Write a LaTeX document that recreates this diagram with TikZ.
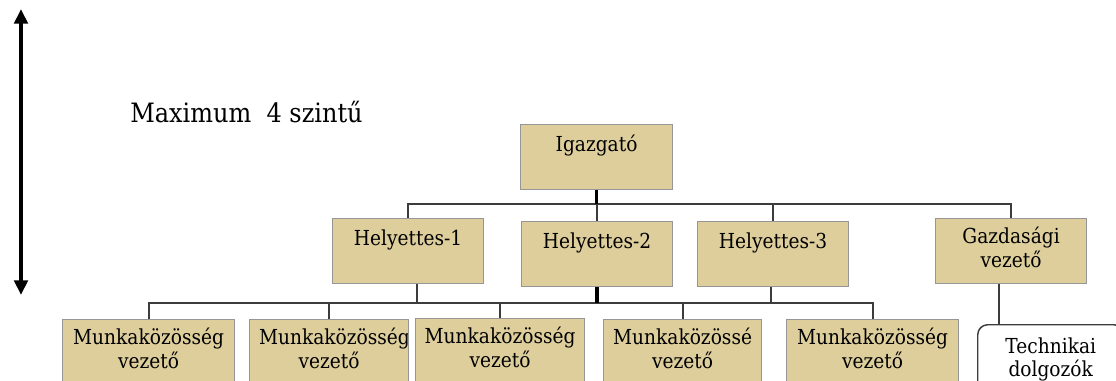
\documentclass[tikz,border=0pt]{standalone}
\usepackage{fontspec}
\setmainfont{DejaVu Serif}
\newfontfamily\labelfont{DejaVu Serif}[FakeStretch=0.9]
\usetikzlibrary{arrows.meta}
\definecolor{boxfill}{RGB}{221,206,156}
\definecolor{boxedge}{RGB}{150,150,150}
\definecolor{wire}{RGB}{60,60,60}
\begin{document}
\begin{tikzpicture}[x=0.75pt,y=-0.75pt,
  lbl/.style={anchor=base, inner sep=0pt, font=\labelfont\fontsize{15.5}{17}\selectfont},
  orgbox/.style={draw=boxedge, fill=boxfill, line width=0.9pt, inner sep=0pt,
    anchor=north west, minimum height=65*0.75pt},
  bw/.style={minimum width=#1*0.75pt},
  one/.style={path picture={\node[lbl] at ([yshift=-20.5pt]path picture bounding box.north) {#1};}},
  two/.style 2 args={path picture={
      \node[lbl] at ([yshift=-19pt]path picture bounding box.north) {#1};
      \node[lbl] at ([yshift=-36.5pt]path picture bounding box.north) {#2};}},
  conn/.style={draw=wire, line width=1.5pt},
  trunk/.style={draw=black, line width=2.6pt},
]
\clip (0,0) rectangle (1116,380);

% level arrow and caption
\coordinate (atop) at (21,9);
\coordinate (abot) at (21,295);
\draw[line width=3pt, {Triangle[length=11pt,width=10pt]}-{Triangle[length=11pt,width=10pt]}] (atop) -- (abot);
\node[anchor=base west, inner sep=0pt, font=\labelfont\fontsize{20}{22}\selectfont] (cap) at (130,122) {Maximum\ \ 4 szintű};

% boxes
\node[orgbox, bw=152, one={Igazgató}] (ig) at (520,124) {};
\node[orgbox, bw=151, one={Helyettes-1}] (h1) at (332,218) {};
\node[orgbox, bw=151, one={Helyettes-2}] (h2) at (521,221) {};
\node[orgbox, bw=151, one={Helyettes-3}] (h3) at (697,221) {};
\node[orgbox, bw=151, two={Gazdasági}{vezető}] (gz) at (935,218) {};

\node[orgbox, bw=172, minimum height=70*0.75pt, two={Munkaközösség}{vezető}] (m1) at (62,319) {};
\node[orgbox, bw=159, minimum height=70*0.75pt,
      path picture={
        \node[lbl] at ([xshift=4pt,yshift=-19pt]path picture bounding box.north) {Munkaközösség};
        \node[lbl] at ([yshift=-36.5pt]path picture bounding box.north) {vezető};}] (m2) at (249,319) {};
\node[orgbox, bw=169, minimum height=70*0.75pt, two={Munkaközösség}{vezető}] (m3) at (415,318) {};
\node[orgbox, bw=158, minimum height=70*0.75pt, two={Munkaközössé}{vezető}] (m4) at (603,319) {};
\node[orgbox, bw=172, minimum height=70*0.75pt, two={Munkaközösség}{vezető}] (m5) at (786,319) {};

\node[draw=wire, fill=white, line width=1.1pt, rounded corners=7.5pt, inner sep=0pt,
      anchor=north west, minimum width=146*0.75pt, minimum height=70*0.75pt,
      path picture={
        \node[lbl] at ([yshift=-21.5pt]path picture bounding box.north) {Technikai};
        \node[lbl] at ([yshift=-39pt]path picture bounding box.north) {dolgozók};}]
      (tech) at (977,324) {};

% bus lines
\coordinate (busA) at (0,204);
\coordinate (busB) at (0,303);

\draw[conn] (h1.north) -- (h1.north |- busA) -- (gz.north |- busA) -- (gz.north);
\draw[conn] (h2.north |- busA) -- (h2.north);
\draw[conn] (h3.north |- busA) -- (h3.north);
\draw[trunk] (ig.south) -- (ig.south |- busA);

\draw[conn] (m1.north) -- (m1.north |- busB) -- (m5.north |- busB) -- (m5.north);
\draw[conn] (m2.north |- busB) -- (m2.north);
\draw[conn] (m3.north |- busB) -- (m3.north);
\draw[conn] (m4.north |- busB) -- (m4.north);
\draw[conn] ([xshift=6.4pt]h1.south) -- ([xshift=6.4pt]h1.south |- busB);
\draw[conn] ([xshift=-1.5pt]h3.south) -- ([xshift=-1.5pt]h3.south |- busB);
\draw[trunk] (h2.south) -- (h2.south |- busB);

\draw[conn] ([xshift=-9pt]gz.south) -- ([xshift=-9pt]gz.south |- tech.north);
\end{tikzpicture}
\end{document}
